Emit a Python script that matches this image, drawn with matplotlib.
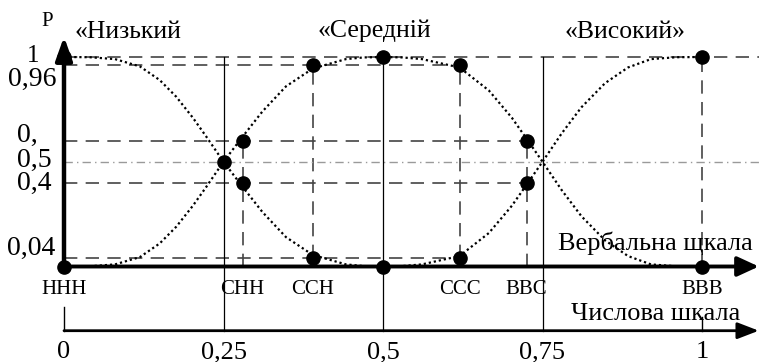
import matplotlib
matplotlib.use("Agg")
import matplotlib.pyplot as plt

plt.rcParams['font.family'] = ['Liberation Serif', 'DejaVu Serif']

# функції належності
low_x = [0, 0.04, 0.08, 0.119, 0.15, 0.176, 0.202, 0.223, 0.25, 0.28, 0.311, 0.348, 0.39, 0.442, 0.47, 0.5]
low_y = [1, 0.999, 0.99, 0.955, 0.89, 0.81, 0.71, 0.62, 0.5, 0.38, 0.26, 0.14, 0.055, 0.01, 0.002, 0]

mid_x = [0, 0.04, 0.08, 0.119, 0.15, 0.176, 0.202, 0.223, 0.25, 0.28, 0.311, 0.348, 0.39, 0.442, 0.47,
         0.5, 0.53, 0.561, 0.62, 0.666, 0.702, 0.725, 0.75, 0.78, 0.811, 0.848, 0.884, 0.92, 0.96, 1.0]
mid_y = [0, 0.001, 0.01, 0.045, 0.11, 0.19, 0.29, 0.38, 0.5, 0.62, 0.74, 0.86, 0.945, 0.99, 0.998,
         1, 0.998, 0.99, 0.95, 0.84, 0.71, 0.61, 0.5, 0.365, 0.24, 0.125, 0.05, 0.01, 0.001, 0]

high_x = [0.5, 0.53, 0.561, 0.62, 0.666, 0.702, 0.725, 0.75, 0.78, 0.811, 0.848, 0.884, 0.92, 0.96, 1.0]
high_y = [0, 0.002, 0.01, 0.05, 0.16, 0.29, 0.39, 0.5, 0.635, 0.76, 0.875, 0.95, 0.99, 0.999, 1]

# точки
pt_x = [0, 0, 0.25, 0.28, 0.28, 0.39, 0.39, 0.5, 0.5, 0.62, 0.62, 0.725, 0.725, 1, 1]
pt_y = [1, 0, 0.5, 0.6, 0.4, 0.96, 0.04, 1, 0, 0.96, 0.04, 0.6, 0.4, 1, 0]

# горизонтальні штрихові лінії: рівень, кінець
h_lev = [1, 0.96, 0.6, 0.4, 0.04]
h_end = [1.09, 0.62, 0.725, 0.725, 0.62]
# вертикальні штрихові лінії: x, низ, верх
v_x = [0.28, 0.39, 0.62, 0.725, 1]
v_lo = [0, 0.04, 0.04, 0, 0]
v_hi = [0.6, 0.96, 0.96, 0.6, 1]

y_lab = ['1', '0,96', '0,', '0,5', '0,4', '0,04']
y_val = [1, 0.96, 0.6, 0.5, 0.4, 0.04]

verb_lab = ['ННН', 'СНН', 'ССН', 'ССС', 'ВВС', 'ВВВ']
verb_x = [0, 0.28, 0.39, 0.62, 0.725, 1]

num_lab = ['0', '0,25', '0,5', '0,75', '1']
num_x = [0, 0.25, 0.5, 0.75, 1]

titles = ['«Низький', '«Середній', '«Високий»']
title_x = [0.017, 0.398, 0.785]

W, H = 759, 362
x0, sx = 64, 638
y0, sy = 266.5, 209.5
Y_NUM = (y0 - 330.7) / sy


def px(p):
    return (p - x0) / sx


def py(p):
    return (y0 - p) / sy


fig = plt.figure(figsize=(W / 100, H / 100), dpi=100)
ax = fig.add_axes([0, 0, 1, 1])
ax.set_xlim(px(0), px(W))
ax.set_ylim(py(H), py(0))
ax.axis('off')

dash = (0, (8, 5))
dcol = '#444444'
for lev, end in zip(h_lev, h_end):
    ax.plot([0, end], [lev, lev], color=dcol, lw=1.2, ls=dash)
for xv, lo, hi in zip(v_x, v_lo, v_hi):
    ax.plot([xv, xv], [lo, hi], color=dcol, lw=1.2, ls=dash)
ax.plot([0, 1.09], [0.5, 0.5], color='#9a9a9a', lw=1, ls=(0, (6, 3, 1, 3)))

for xv in [0.25, 0.5, 0.75]:
    ax.plot([xv, xv], [Y_NUM, 1], color='black', lw=0.9)

dot = (0, (1, 1.3))
ax.plot(low_x, low_y, color='black', lw=1.6, ls=dot)
ax.plot(mid_x, mid_y, color='black', lw=1.6, ls=dot)
ax.plot(high_x, high_y, color='black', lw=1.6, ls=dot)

# осі
ax.annotate('', xy=(0, 1.097), xytext=(0, -0.005),
            arrowprops=dict(arrowstyle='-|>,head_length=0.7,head_width=0.25',
                            lw=3.2, color='black', mutation_scale=20, shrinkA=0, shrinkB=0))
ax.annotate('', xy=(1.089, 0), xytext=(0, 0),
            arrowprops=dict(arrowstyle='-|>,head_length=0.65,head_width=0.3',
                            lw=2.8, color='black', mutation_scale=20, shrinkA=0, shrinkB=0))
ax.annotate('', xy=(1.089, Y_NUM), xytext=(0, Y_NUM),
            arrowprops=dict(arrowstyle='-|>,head_length=0.65,head_width=0.25',
                            lw=2, color='black', mutation_scale=20, shrinkA=0, shrinkB=0))
ax.plot([0, 0], [Y_NUM, py(307)], color='black', lw=1)
ax.plot([1, 1], [Y_NUM, py(317)], color='black', lw=1)

ax.plot(pt_x, pt_y, 'o', color='black', ms=9.5, ls='none')

fs = 18.5
for t, tx in zip(titles, title_x):
    ax.text(tx, py(37.5), t, fontsize=fs, ha='left', va='baseline')
ax.text(px(47), py(22), 'P', fontsize=15, ha='center', va='center')

# підписи осі P: (x-пікселі, вирівнювання, базова лінія)
y_pos = [(33, 'center', 62), (57, 'right', 86), (17, 'left', 142),
         (17, 'left', 167), (17, 'left', 190), (55, 'right', 255)]
y_fs = [18, 20, 20, 20, 20, 20]
for lab, (xp, ha, bl), f in zip(y_lab, y_pos, y_fs):
    ax.text(px(xp), py(bl), lab, fontsize=f, ha=ha, va='baseline')

for lab, xv in zip(verb_lab, verb_x):
    ax.text(xv, py(290), lab, fontsize=15, ha='center', va='center')
for lab, xv in zip(num_lab, num_x):
    ax.text(xv, py(341), lab, fontsize=19, ha='center', va='top')

ax.text(px(753), py(243), 'Вербальна щкала', fontsize=19, ha='right', va='center')
ax.text(px(740), py(314), 'Числова шкала', fontsize=19, ha='right', va='center')

fig.savefig('out.png', dpi=100)
